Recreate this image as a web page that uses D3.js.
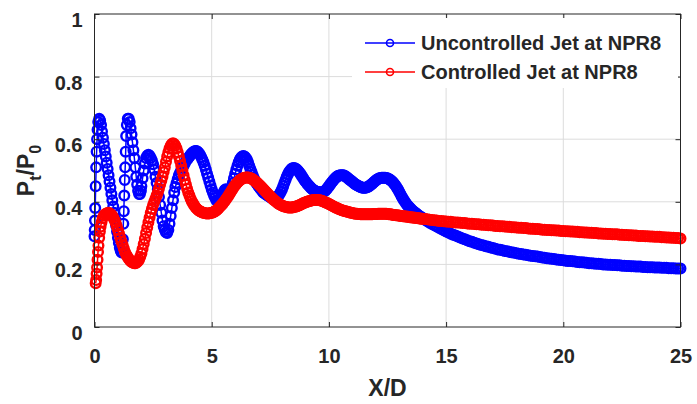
<!DOCTYPE html>
<html>
<head>
<meta charset="utf-8">
<script src="https://cdn.jsdelivr.net/npm/d3@7"></script>
<style>
  body { margin: 0; background: #fff; }
  text { font-family: 'Liberation Sans', Arial, sans-serif; font-weight: bold; fill: #262626; }
</style>
</head>
<body>
<div id="chart"></div>
<script>
// tick values
const xTicks = [0, 5, 10, 15, 20, 25];
const yTicks = [0, 0.2, 0.4, 0.6, 0.8, 1];

const seriesNames = ['Uncontrolled Jet at NPR8', 'Controlled Jet at NPR8'];
const seriesColors = ['#0000ff', '#ff0000'];

// uncontrolled jet, X/D < 2 (uneven spacing)
const blueHeadX = [0, 0.01, 0.02, 0.03, 0.05, 0.07, 0.09, 0.11, 0.13, 0.16, 0.2,
  0.24, 0.28, 0.32, 0.36, 0.4, 0.44, 0.48, 0.52, 0.56, 0.6, 0.64, 0.68, 0.72, 0.76,
  0.8, 0.84, 0.88, 0.92, 0.96, 1.0, 1.04, 1.08, 1.12, 1.16, 1.19, 1.21, 1.23, 1.25,
  1.27, 1.29, 1.31, 1.33, 1.35, 1.38, 1.42, 1.46, 1.5, 1.54, 1.58, 1.62, 1.66, 1.7,
  1.74, 1.78, 1.82, 1.86, 1.9, 1.94, 1.98];
const blueHeadY = [0.29, 0.31, 0.34, 0.38, 0.45, 0.51, 0.56, 0.6, 0.63, 0.655, 0.665,
  0.66, 0.645, 0.625, 0.605, 0.585, 0.565, 0.545, 0.525, 0.505, 0.485, 0.465, 0.445, 0.425, 0.405,
  0.385, 0.365, 0.345, 0.325, 0.305, 0.285, 0.268, 0.253, 0.243, 0.238, 0.24, 0.28, 0.33, 0.37,
  0.42, 0.47, 0.51, 0.56, 0.61, 0.645, 0.665, 0.665, 0.655, 0.635, 0.615, 0.59, 0.565, 0.54,
  0.51, 0.48, 0.455, 0.435, 0.425, 0.425, 0.435];

// uncontrolled jet, X/D = 2.00 .. 13.95 every 0.05
const blueMidY = [
  0.45, 0.475, 0.50, 0.522, 0.54, 0.547, 0.55, 0.547, 0.54, 0.532, 0.52, 0.502, 0.48, 0.46, 0.44, 0.415, 0.39, 0.365, 0.34, 0.322,
  0.31, 0.303, 0.30, 0.31, 0.33, 0.355, 0.38, 0.405, 0.43, 0.447, 0.46, 0.473, 0.485, 0.493, 0.50, 0.508, 0.515, 0.523, 0.53, 0.535,
  0.54, 0.545, 0.55, 0.554, 0.558, 0.561, 0.562, 0.562, 0.56, 0.556, 0.55, 0.543, 0.535, 0.526, 0.515, 0.503, 0.49, 0.478, 0.465, 0.452,
  0.44, 0.43, 0.42, 0.412, 0.405, 0.401, 0.40, 0.404, 0.41, 0.42, 0.43, 0.437, 0.44, 0.438, 0.435, 0.436, 0.44, 0.448, 0.46, 0.475,
  0.49, 0.503, 0.515, 0.526, 0.535, 0.541, 0.545, 0.546, 0.545, 0.541, 0.535, 0.526, 0.515, 0.505, 0.495, 0.485, 0.475, 0.467, 0.46, 0.455,
  0.45, 0.445, 0.44, 0.435, 0.43, 0.427, 0.425, 0.422, 0.42, 0.417, 0.415, 0.412, 0.41, 0.409, 0.41, 0.412, 0.415, 0.42, 0.425, 0.432,
  0.44, 0.45, 0.46, 0.47, 0.48, 0.488, 0.495, 0.5, 0.505, 0.507, 0.508, 0.507, 0.505, 0.502, 0.498, 0.493, 0.488, 0.482, 0.476, 0.47,
  0.465, 0.46, 0.455, 0.451, 0.447, 0.443, 0.44, 0.437, 0.435, 0.433, 0.432, 0.431, 0.43, 0.43, 0.43, 0.431, 0.433, 0.436, 0.44, 0.445,
  0.45, 0.455, 0.46, 0.465, 0.47, 0.474, 0.478, 0.481, 0.483, 0.484, 0.485, 0.485, 0.485, 0.484, 0.482, 0.479, 0.476, 0.473, 0.47, 0.467,
  0.464, 0.461, 0.458, 0.455, 0.453, 0.451, 0.449, 0.447, 0.446, 0.445, 0.445, 0.445, 0.446, 0.447, 0.449, 0.452, 0.455, 0.458, 0.462, 0.465,
  0.468, 0.471, 0.473, 0.475, 0.476, 0.477, 0.477, 0.477, 0.477, 0.476, 0.475, 0.473, 0.471, 0.468, 0.465, 0.461, 0.456, 0.451, 0.445, 0.439,
  0.432, 0.425, 0.418, 0.411, 0.405, 0.399, 0.394, 0.389, 0.385, 0.381, 0.377, 0.373, 0.37, 0.367, 0.364, 0.361, 0.358, 0.355, 0.353, 0.35];

// uncontrolled jet, X/D = 14.0 .. 25.0 every 0.1
const blueTailY = [
  0.348, 0.343, 0.338, 0.333, 0.329, 0.325, 0.321, 0.317, 0.313, 0.309,
  0.305, 0.302, 0.298, 0.295, 0.292, 0.289, 0.286, 0.283, 0.280, 0.277,
  0.274, 0.272, 0.269, 0.267, 0.264, 0.262, 0.260, 0.258, 0.256, 0.254,
  0.252, 0.250, 0.248, 0.247, 0.245, 0.243, 0.242, 0.240, 0.239, 0.237,
  0.236, 0.234, 0.233, 0.232, 0.231, 0.229, 0.228, 0.227, 0.226, 0.225,
  0.224, 0.222, 0.221, 0.220, 0.219, 0.218, 0.217, 0.216, 0.215, 0.214,
  0.213, 0.212, 0.211, 0.211, 0.210, 0.209, 0.208, 0.207, 0.207, 0.206,
  0.205, 0.204, 0.204, 0.203, 0.202, 0.202, 0.201, 0.200, 0.200, 0.199,
  0.199, 0.198, 0.198, 0.197, 0.197, 0.196, 0.196, 0.195, 0.195, 0.194,
  0.194, 0.193, 0.193, 0.193, 0.192, 0.192, 0.191, 0.191, 0.191, 0.190,
  0.190, 0.190, 0.189, 0.189, 0.189, 0.188, 0.188, 0.188, 0.187, 0.187,
  0.187];

// controlled jet, X/D < 0.5
const redHeadX = [0.05, 0.07, 0.09, 0.11, 0.13, 0.15, 0.17, 0.2, 0.23, 0.26, 0.3, 0.35, 0.4, 0.45];
const redHeadY = [0.14, 0.15, 0.17, 0.19, 0.215, 0.24, 0.26, 0.285, 0.305, 0.32, 0.335, 0.348, 0.356, 0.36];

// controlled jet, X/D = 0.50 .. 13.95 every 0.05
const redMidY = [
  0.362, 0.364, 0.365, 0.363, 0.36, 0.356, 0.35, 0.342, 0.333, 0.322,
  0.31, 0.298, 0.285, 0.273, 0.262, 0.251, 0.24, 0.232, 0.225, 0.219, 0.214, 0.21, 0.207, 0.205, 0.204, 0.204, 0.206, 0.21, 0.215, 0.224,
  0.235, 0.249, 0.265, 0.282, 0.30, 0.318, 0.335, 0.35, 0.365, 0.378, 0.39, 0.40, 0.41, 0.42, 0.43, 0.442, 0.455, 0.467, 0.48, 0.495,
  0.51, 0.528, 0.545, 0.558, 0.57, 0.579, 0.585, 0.587, 0.585, 0.579, 0.57, 0.558, 0.545, 0.53, 0.515, 0.5, 0.485, 0.47, 0.455, 0.442,
  0.43, 0.42, 0.41, 0.402, 0.395, 0.389, 0.383, 0.379, 0.375, 0.372, 0.37, 0.368, 0.366, 0.365, 0.364, 0.363, 0.363, 0.363, 0.363, 0.364,
  0.365, 0.366, 0.368, 0.37, 0.373, 0.376, 0.38, 0.384, 0.388, 0.392, 0.397, 0.402, 0.407, 0.412, 0.418, 0.424, 0.43, 0.436, 0.442, 0.448,
  0.453, 0.458, 0.462, 0.466, 0.469, 0.472, 0.474, 0.476, 0.477, 0.478, 0.478, 0.478, 0.477, 0.476, 0.474, 0.472, 0.469, 0.466, 0.463, 0.46,
  0.456, 0.453, 0.449, 0.445, 0.441, 0.437, 0.433, 0.429, 0.425, 0.421, 0.417, 0.413, 0.41, 0.406, 0.403, 0.4, 0.397, 0.394, 0.392, 0.39,
  0.388, 0.386, 0.385, 0.384, 0.383, 0.382, 0.382, 0.382, 0.382, 0.382, 0.383, 0.384, 0.385, 0.386, 0.388, 0.389, 0.391, 0.393, 0.395, 0.397,
  0.398, 0.4, 0.401, 0.402, 0.403, 0.404, 0.405, 0.406, 0.406, 0.406, 0.406, 0.406, 0.405, 0.404, 0.403, 0.402, 0.4, 0.398, 0.397, 0.395,
  0.393, 0.391, 0.389, 0.387, 0.385, 0.383, 0.381, 0.38, 0.378, 0.376, 0.375, 0.373, 0.372, 0.371, 0.37, 0.369, 0.368, 0.367, 0.366, 0.365,
  0.364, 0.363, 0.363, 0.362, 0.362, 0.361, 0.361, 0.36, 0.36, 0.36, 0.36, 0.36, 0.36, 0.36, 0.36, 0.36, 0.36, 0.36, 0.361, 0.361,
  0.361, 0.361, 0.362, 0.362, 0.362, 0.362, 0.362, 0.362, 0.362, 0.362, 0.361, 0.36, 0.36, 0.36, 0.359, 0.358, 0.358, 0.357, 0.357, 0.356,
  0.356, 0.355, 0.355, 0.354, 0.354, 0.353, 0.353, 0.352, 0.352, 0.351, 0.351, 0.35, 0.35, 0.349, 0.349, 0.348, 0.348, 0.347, 0.347, 0.346];

// controlled jet, X/D = 14.0 .. 25.0 every 0.1
const redTailY = [
  0.346, 0.345, 0.344, 0.343, 0.342, 0.341, 0.340, 0.339, 0.339, 0.338,
  0.337, 0.336, 0.336, 0.335, 0.334, 0.334, 0.333, 0.332, 0.332, 0.331,
  0.330, 0.330, 0.329, 0.328, 0.328, 0.327, 0.327, 0.326, 0.325, 0.325,
  0.324, 0.323, 0.323, 0.322, 0.322, 0.321, 0.320, 0.320, 0.319, 0.319,
  0.318, 0.317, 0.317, 0.316, 0.316, 0.315, 0.314, 0.314, 0.313, 0.313,
  0.312, 0.311, 0.311, 0.310, 0.310, 0.309, 0.309, 0.308, 0.308, 0.307,
  0.307, 0.306, 0.306, 0.305, 0.305, 0.304, 0.304, 0.303, 0.303, 0.302,
  0.302, 0.301, 0.301, 0.300, 0.300, 0.299, 0.299, 0.298, 0.298, 0.297,
  0.297, 0.296, 0.296, 0.296, 0.295, 0.295, 0.294, 0.294, 0.293, 0.293,
  0.292, 0.292, 0.291, 0.291, 0.291, 0.290, 0.290, 0.289, 0.289, 0.288,
  0.288, 0.288, 0.287, 0.287, 0.286, 0.286, 0.285, 0.285, 0.284, 0.284,
  0.283];

const blue = blueHeadX.map((x, i) => ({ x, y: blueHeadY[i] }))
  .concat(blueMidY.map((y, i) => ({ x: 2 + i / 20, y })))
  .concat(blueTailY.map((y, i) => ({ x: 14 + i / 10, y })));
const red = redHeadX.map((x, i) => ({ x, y: redHeadY[i] }))
  .concat(redMidY.map((y, i) => ({ x: 0.5 + i / 20, y })))
  .concat(redTailY.map((y, i) => ({ x: 14 + i / 10, y })));
const allSeries = [blue, red];

const W = 697, H = 404;
const margin = { top: 14, right: 16.5, bottom: 77, left: 94.5 };
const width = W - margin.left - margin.right;
const height = H - margin.top - margin.bottom;

const x = d3.scaleLinear().domain([0, 25]).range([0, width]);
const y = d3.scaleLinear().domain([0, 1]).range([height, 0]);

const svg = d3.select('#chart').append('svg')
  .attr('width', W)
  .attr('height', H);
svg.append('rect').attr('width', W).attr('height', H).attr('fill', '#fff');

const g = svg.append('g')
  .attr('transform', 'translate(' + margin.left + ',' + margin.top + ')');

// grid
g.append('g').selectAll('line')
  .data(xTicks.slice(1, -1))
  .enter().append('line')
  .attr('x1', d => x(d)).attr('x2', d => x(d))
  .attr('y1', 0).attr('y2', height)
  .attr('stroke', '#dcdcdc').attr('stroke-width', 1);
g.append('g').selectAll('line')
  .data(yTicks.slice(1, -1))
  .enter().append('line')
  .attr('y1', d => y(d)).attr('y2', d => y(d))
  .attr('x1', 0).attr('x2', width)
  .attr('stroke', '#dcdcdc').attr('stroke-width', 1);

// series
const line = d3.line().x(d => x(d.x)).y(d => y(d.y));
allSeries.forEach((data, k) => {
  g.append('path')
    .datum(data)
    .attr('d', line)
    .attr('fill', 'none')
    .attr('stroke', seriesColors[k])
    .attr('stroke-width', 1.5);
  g.append('g').selectAll('circle')
    .data(data)
    .enter().append('circle')
    .attr('cx', d => x(d.x))
    .attr('cy', d => y(d.y))
    .attr('r', 4.8)
    .attr('fill', 'none')
    .attr('stroke', seriesColors[k])
    .attr('stroke-width', 2.4);
});

// legend
const legend = svg.append('g');
legend.append('rect')
  .attr('x', 352).attr('y', 18).attr('width', 326).attr('height', 70)
  .attr('fill', '#fff');
seriesNames.forEach((name, k) => {
  const ly = 43 + k * 29;
  legend.append('line')
    .attr('x1', 365).attr('x2', 415).attr('y1', ly).attr('y2', ly)
    .attr('stroke', seriesColors[k]).attr('stroke-width', 1.5);
  legend.append('circle')
    .attr('cx', 390).attr('cy', ly).attr('r', 3.5)
    .attr('fill', 'none').attr('stroke', seriesColors[k]).attr('stroke-width', 1.6);
  legend.append('text')
    .attr('x', 421).attr('y', ly + 7)
    .style('font-size', '20px')
    .text(name);
});

// axes box
const axisColor = '#262626';
g.append('rect')
  .attr('x', 0).attr('y', 0).attr('width', width).attr('height', height)
  .attr('fill', 'none').attr('stroke', axisColor).attr('stroke-width', 1);

const xAxis = g.append('g')
  .attr('transform', 'translate(0,' + height + ')')
  .call(d3.axisBottom(x).tickValues(xTicks).tickSizeInner(-5).tickSizeOuter(0).tickPadding(22));
const xAxisTop = g.append('g')
  .call(d3.axisTop(x).tickValues(xTicks).tickSizeInner(-5).tickSizeOuter(0).tickFormat(''));
const yAxis = g.append('g')
  .call(d3.axisLeft(y).tickValues(yTicks).tickSizeInner(-5).tickSizeOuter(0).tickPadding(12)
    .tickFormat(d => d === 0 || d === 1 ? d3.format('d')(d) : d3.format('.1f')(d)));
const yAxisRight = g.append('g')
  .attr('transform', 'translate(' + width + ',0)')
  .call(d3.axisRight(y).tickValues(yTicks).tickSizeInner(-5).tickSizeOuter(0).tickFormat(''));

[xAxis, xAxisTop, yAxis, yAxisRight].forEach(a => {
  a.select('.domain').remove();
  a.selectAll('line').attr('stroke', axisColor);
});
xAxis.selectAll('text').style('font-size', '20px').attr('fill', axisColor);
yAxis.selectAll('text').style('font-size', '20px').attr('fill', axisColor).attr('dy', '0.62em');

// axis titles
svg.append('text')
  .attr('x', margin.left + width / 2)
  .attr('y', 396)
  .attr('text-anchor', 'middle')
  .style('font-size', '23px')
  .text('X/D');

const yl = svg.append('text')
  .attr('transform', 'translate(34,' + (margin.top + height / 2) + ') rotate(-90)')
  .attr('text-anchor', 'middle')
  .style('font-size', '23px');
yl.append('tspan').text('P');
yl.append('tspan').attr('dy', 7).style('font-size', '16px').text('t');
yl.append('tspan').attr('dy', -7).text('/P');
yl.append('tspan').attr('dy', 7).style('font-size', '16px').text('0');
</script>
</body>
</html>
